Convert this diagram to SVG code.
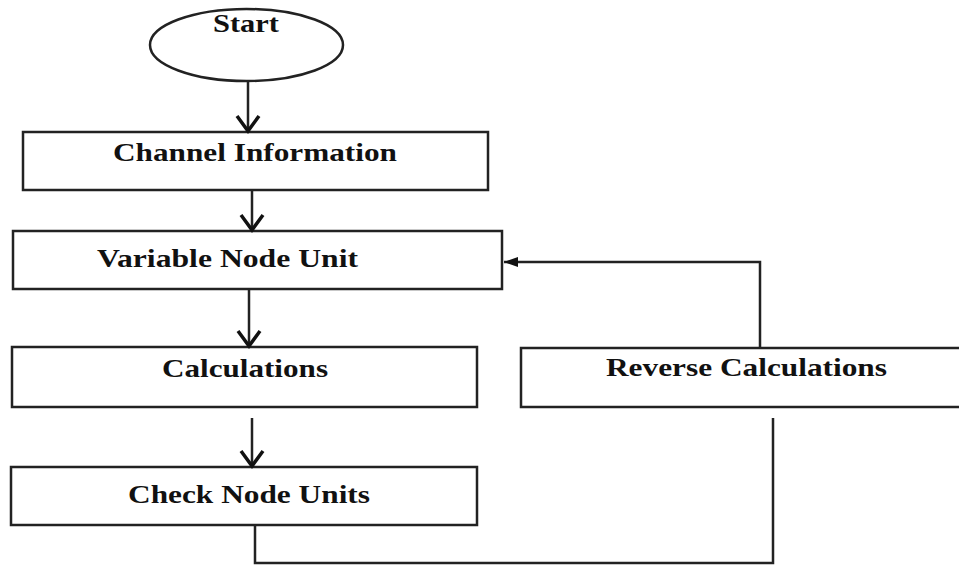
<svg xmlns="http://www.w3.org/2000/svg" width="959" height="570" viewBox="0 0 959 570">
<style>
.box{fill:#fff;stroke:#222;stroke-width:2.5}
.lbl{font-family:"Liberation Serif","Times New Roman",serif;font-weight:bold;font-size:25px;fill:#111}
.ln{fill:none;stroke:#222;stroke-width:2.5}
</style>
<defs>
<marker id="open" markerWidth="20" markerHeight="26" refX="17" refY="13" markerUnits="userSpaceOnUse" orient="auto" viewBox="0 0 20 26">
<path d="M2,2 L17,13 L2,24" fill="none" stroke="#111" stroke-width="3.5"/>
</marker>
<marker id="fill" markerWidth="16" markerHeight="12" refX="15" refY="6" markerUnits="userSpaceOnUse" orient="auto" viewBox="0 0 16 12">
<path d="M1,1 L15,6 L1,11 Z" fill="#111"/>
</marker>
</defs>
<rect width="959" height="570" fill="#fff"/>
<g id="start">
<ellipse class="box" cx="246.5" cy="45" rx="96.5" ry="36"/>
<text class="lbl" x="213" y="32" textLength="66" lengthAdjust="spacingAndGlyphs">Start</text>
</g>
<g id="channel">
<rect class="box" x="23" y="132" width="465" height="58"/>
<text class="lbl" x="113" y="161" textLength="284" lengthAdjust="spacingAndGlyphs">Channel Information</text>
</g>
<g id="variable">
<rect class="box" x="13" y="231" width="489" height="58"/>
<text class="lbl" x="97" y="267" textLength="261" lengthAdjust="spacingAndGlyphs">Variable Node Unit</text>
</g>
<g id="calc">
<rect class="box" x="12" y="347" width="465" height="60"/>
<text class="lbl" x="162" y="377" textLength="166" lengthAdjust="spacingAndGlyphs">Calculations</text>
</g>
<g id="check">
<rect class="box" x="11" y="467" width="466" height="58"/>
<text class="lbl" x="128" y="503" textLength="242" lengthAdjust="spacingAndGlyphs">Check Node Units</text>
</g>
<g id="reverse">
<rect class="box" x="521" y="348" width="450" height="59"/>
<text class="lbl" x="606" y="376" textLength="281" lengthAdjust="spacingAndGlyphs">Reverse Calculations</text>
</g>
<g id="connectors">
<path class="ln" d="M248,81 V131" marker-end="url(#open)"/>
<path class="ln" d="M252,190 V230" marker-end="url(#open)"/>
<path class="ln" d="M249,289 V346" marker-end="url(#open)"/>
<path class="ln" d="M252,418 V466" marker-end="url(#open)"/>
<path class="ln" d="M255,525 V563 H773 V418"/>
<path class="ln" d="M760,348 V262 H504" marker-end="url(#fill)"/>
</g>
</svg>
